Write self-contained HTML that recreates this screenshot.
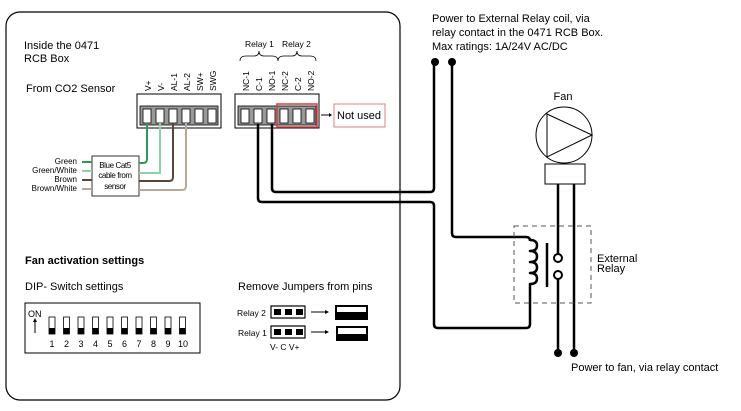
<!DOCTYPE html>
<html><head><meta charset="utf-8"><style>
html,body{margin:0;padding:0;background:#fff;}
svg{display:block;font-family:"Liberation Sans",Arial,sans-serif;}
</style></head><body>
<svg width="741" height="411" viewBox="0 0 741 411" xmlns="http://www.w3.org/2000/svg">
<rect x="6" y="12" width="394" height="388" rx="14" fill="none" stroke="#000" stroke-width="1.2"/>
<text x="24" y="49" font-size="11">Inside the 0471</text>
<text x="24" y="62" font-size="11">RCB Box</text>
<text x="26" y="92" font-size="11">From CO2 Sensor</text>
<!-- left pin labels -->
<g font-size="8.5">
<text transform="translate(151,91) rotate(-90)">V+</text>
<text transform="translate(164,91) rotate(-90)">V-</text>
<text transform="translate(177,91) rotate(-90)">AL-1</text>
<text transform="translate(190,91) rotate(-90)">AL-2</text>
<text transform="translate(203,91) rotate(-90)">SW+</text>
<text transform="translate(216,91) rotate(-90)">SWG</text>
<text transform="translate(249,91) rotate(-90)">NC-1</text>
<text transform="translate(262,91) rotate(-90)">C-1</text>
<text transform="translate(275,91) rotate(-90)">NO-1</text>
<text transform="translate(288,91) rotate(-90)">NC-2</text>
<text transform="translate(301,91) rotate(-90)">C-2</text>
<text transform="translate(314,91) rotate(-90)">NO-2</text>
</g>
<text x="245" y="47" font-size="8.5">Relay 1</text>
<text x="282" y="47" font-size="8.5">Relay 2</text>
<path d="M240,61 q0,-5 6,-5 h8 q5,0 5,-5 q0,5 5,5 h8 q6,0 6,5 M278,61 q0,-5 6,-5 h8 q5,0 5,-5 q0,5 5,5 h8 q6,0 6,5" fill="none" stroke="#000" stroke-width="0.8"/>
<!-- terminal blocks -->
<rect x="137" y="94" width="84" height="34" fill="#fff" stroke="#000"/>
<rect x="235" y="94" width="84" height="34" fill="#fff" stroke="#000"/>
<g fill="#999" stroke="#000" stroke-width="0.8">
<rect x="140" y="106" width="78" height="19"/>
<rect x="238" y="106" width="78" height="19"/>
</g>
<g fill="#fff" stroke="#000" stroke-width="0.8">
<rect x="143" y="109" width="8" height="14"/><rect x="156" y="109" width="8" height="14"/><rect x="169" y="109" width="8" height="14"/><rect x="182" y="109" width="8" height="14"/><rect x="195" y="109" width="8" height="14"/><rect x="208" y="109" width="8" height="14"/>
<rect x="241" y="109" width="8" height="14"/><rect x="254" y="109" width="8" height="14"/><rect x="267" y="109" width="8" height="14"/><rect x="280" y="109" width="8" height="14"/><rect x="293" y="109" width="8" height="14"/><rect x="306" y="109" width="8" height="14"/>
</g>
<rect x="277" y="104" width="40" height="23" fill="none" stroke="#d83a3a" stroke-width="1.5"/>
<line x1="321" y1="115" x2="329" y2="115" stroke="#000"/>
<path d="M329,113 l3,2 l-3,2z"/>
<rect x="334" y="104" width="51" height="23" fill="#fff" stroke="#e08080"/>
<text x="337" y="119" font-size="11">Not used</text>
<!-- sensor wires -->
<rect x="92" y="156" width="47" height="40" fill="#fff" stroke="#000" stroke-width="0.8"/>
<text x="115" y="168" font-size="8" text-anchor="middle" letter-spacing="-0.4">Blue Cat5</text>
<text x="115" y="178" font-size="8" text-anchor="middle" letter-spacing="-0.4">cable from</text>
<text x="115" y="189" font-size="8" text-anchor="middle" letter-spacing="-0.4">sensor</text>
<g fill="none" stroke-width="2">
<path d="M139,163 h4 q4,0 4,-4 v-36" stroke="#2e9a58"/>
<path d="M139,173 h21 v-50" stroke="#8fd0a8"/>
<path d="M139,181 h30 q4,0 4,-4 v-54" stroke="#5a4632"/>
<path d="M139,190 h43 q4,0 4,-4 v-63" stroke="#b8a898"/>
<path d="M82,162 h10" stroke="#2e9a58"/>
<path d="M82,171 h10" stroke="#8fd0a8"/>
<path d="M82,180 h10" stroke="#5a4632"/>
<path d="M82,189 h10" stroke="#b8a898"/>
</g>
<g font-size="8" text-anchor="end">
<text x="77" y="164">Green</text>
<text x="77" y="173">Green/White</text>
<text x="77" y="182">Brown</text>
<text x="77" y="191">Brown/White</text>
</g>
<!-- relay wires -->
<g fill="none" stroke="#000" stroke-width="2.5" stroke-linejoin="round">
<path d="M258,124 v74 q0,4 4,4 h168 q4,0 4,4 v118 q0,4 4,4 h88 q4,0 4,-4 v-38"/>
<path d="M272,124 v64 q0,4 4,4 h154 q4,0 4,-4 v-126"/>
<path d="M452,62 v171 q0,4 4,4 h70 q4,0 4,4"/>
<path d="M530,240 q7,0 7,5.5 q0,5.5 -7,5.5 q7,0 7,5.5 q0,5.5 -7,5.5 q7,0 7,5.5 q0,5.5 -7,5.5 q7,0 7,5.5 q0,5.5 -7,5.5 v2"/>
<path d="M547,243 v44"/>
<path d="M558,184 v70 M558,279 v74 M574,184 v169"/>
</g>
<circle cx="558" cy="258" r="4" fill="#fff" stroke="#000" stroke-width="2"/>
<circle cx="558" cy="275" r="4" fill="#fff" stroke="#000" stroke-width="2"/>
<circle cx="435" cy="62" r="4"/><circle cx="452" cy="62" r="4"/>
<circle cx="558" cy="353" r="4"/><circle cx="574" cy="353" r="4"/>
<rect x="514" y="226" width="77" height="77" fill="none" stroke="#555" stroke-dasharray="5,4"/>
<text x="597" y="262" font-size="11">External</text>
<text x="597" y="272" font-size="11">Relay</text>
<text x="571" y="371" font-size="11">Power to fan, via relay contact</text>
<!-- fan -->
<text x="563" y="100" font-size="11" text-anchor="middle">Fan</text>
<circle cx="564" cy="135" r="28" fill="#fff" stroke="#000"/>
<path d="M547,114 L592,135 L547,157 Z" fill="none" stroke="#000"/>
<rect x="545" y="164" width="40" height="20" fill="#fff" stroke="#000"/>
<g font-size="11">
<text x="432" y="22">Power to External Relay coil, via</text>
<text x="432" y="36">relay contact in the 0471 RCB Box.</text>
<text x="432" y="50">Max ratings: 1A/24V AC/DC</text>
</g>
<!-- fan activation -->
<text x="25" y="264" font-size="11" font-weight="bold">Fan activation settings</text>
<text x="25" y="290" font-size="11">DIP- Switch settings</text>
<rect x="25" y="303" width="175" height="50" fill="#fff" stroke="#000"/>
<text x="28" y="317" font-size="9">ON</text>
<path d="M35,333 v-12" stroke="#000"/><path d="M33,322 l2,-4 l2,4z"/>
<g id="sw">
<rect x="49" y="317" width="6" height="17" fill="#fff" stroke="#000" stroke-width="0.8"/>
<rect x="49" y="328" width="6" height="6"/>
</g>
<use href="#sw" x="14.5"/><use href="#sw" x="29"/><use href="#sw" x="43.5"/><use href="#sw" x="58"/><use href="#sw" x="72.5"/><use href="#sw" x="87"/><use href="#sw" x="101.5"/><use href="#sw" x="116"/><use href="#sw" x="130.5"/>
<g font-size="9" text-anchor="middle">
<text x="52" y="347">1</text><text x="66.5" y="347">2</text><text x="81" y="347">3</text><text x="95.5" y="347">4</text><text x="110" y="347">5</text><text x="124.5" y="347">6</text><text x="139" y="347">7</text><text x="153.5" y="347">8</text><text x="168" y="347">9</text><text x="183" y="347">10</text>
</g>
<text x="238" y="290" font-size="11">Remove Jumpers from pins</text>
<text x="237" y="316" font-size="8.5">Relay 2</text>
<text x="238" y="336" font-size="8.5">Relay 1</text>
<g fill="#fff" stroke="#000" stroke-width="1.2">
<rect x="271" y="306" width="34" height="12"/><rect x="271" y="326" width="34" height="12"/>
</g>
<g>
<rect x="274" y="309" width="7" height="6"/><rect x="285" y="309" width="7" height="6"/><rect x="296" y="309" width="7" height="6"/>
<rect x="274" y="329" width="7" height="6"/><rect x="285" y="329" width="7" height="6"/><rect x="296" y="329" width="7" height="6"/>
</g>
<line x1="311" y1="312" x2="325" y2="312" stroke="#000"/><path d="M325,310 l4,2 l-4,2z"/>
<line x1="311" y1="332" x2="325" y2="332" stroke="#000"/><path d="M325,330 l4,2 l-4,2z"/>
<rect x="335" y="305" width="33" height="15" fill="#000"/><rect x="337" y="307" width="29" height="5" fill="#fff"/>
<rect x="336" y="326" width="32" height="15" fill="#000"/><rect x="338" y="328" width="28" height="6" fill="#fff"/>
<text x="270" y="350" font-size="8.5">V- C V+</text>
</svg>
</body></html>
